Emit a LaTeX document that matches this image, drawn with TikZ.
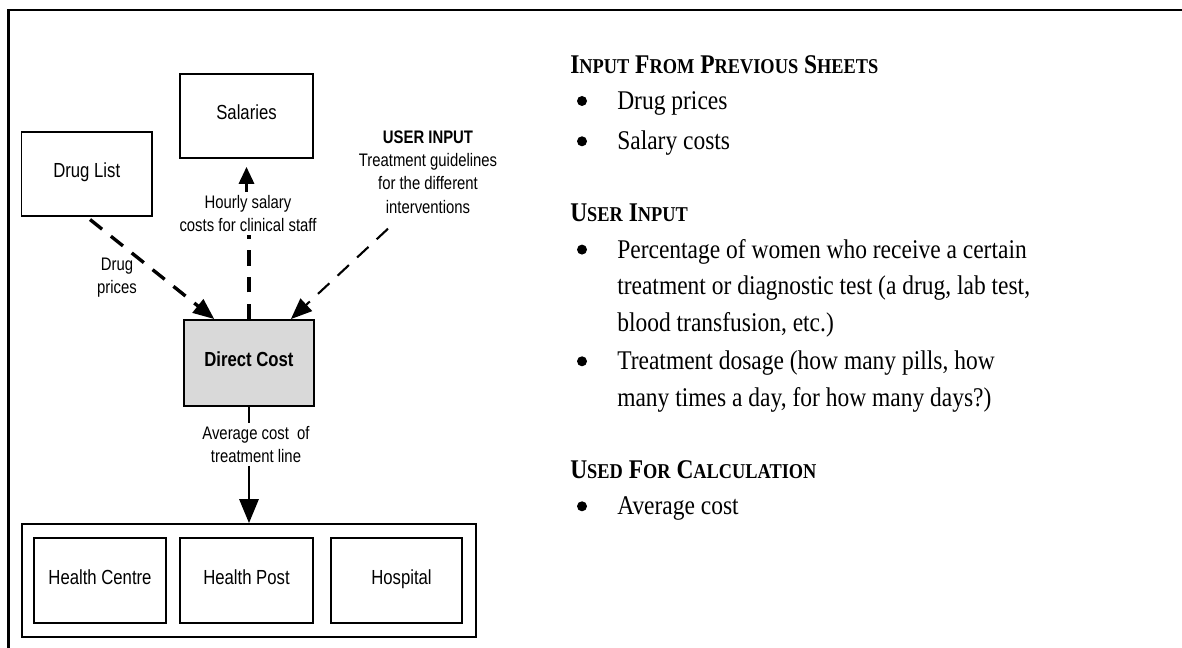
\documentclass[tikz,border=0pt]{standalone}
\usepackage{fontspec}
\setmainfont[FakeStretch=0.87]{Liberation Serif}
\setsansfont[FakeStretch=0.82]{Liberation Sans}
\usepackage{xcolor}
\usetikzlibrary{positioning,calc,arrows.meta}
\definecolor{costgray}{RGB}{217,217,217}
\newcommand{\capsc}[2]{#1{\fontsize{15}{15}\selectfont #2}}
\newcommand{\itemlines}[1]{\begin{tabular}[t]{@{}l@{}}#1\end{tabular}}

\begin{document}
\begin{tikzpicture}[
    box/.style={draw, line width=1.3pt, rectangle, minimum width=3.3cm, minimum height=2.1cm, text height=0.75em, text depth=0.22em, font=\sffamily\fontsize{14.5}{17}\selectfont},
    lbl/.style={align=center, inner sep=2pt, font=\sffamily\fontsize{12.9}{16.7}\selectfont},
    dashflow/.style={line width=2.4pt, dash pattern=on 11pt off 8pt},
    head/.style={anchor=base west, inner sep=0pt, font=\bfseries\fontsize{19.2}{26.1}\selectfont},
    item/.style={anchor=base west, inner sep=0pt, font=\fontsize{19.2}{26.1}\selectfont},
    dot/.style={circle, fill=black, inner sep=0pt, minimum size=0.25cm}]
    \useasboundingbox (0,0) rectangle (29.55,16.2);
    \clip (0,0) rectangle (29.55,16.2);

    % Frame
    \draw[line width=2.1pt] (29.8,15.95) -- (0.2125,15.95) -- (0.2125,-0.3);

    % Source sheets
    \node[box, minimum width=3.26cm] (druglist) at (2.169,11.85) {Drug List};
    \node[box, minimum width=3.325cm] (salaries) at (6.1625,13.3) {Salaries};

    % Direct cost sheet
    \node[box, minimum width=3.25cm, minimum height=2.15cm, fill=costgray, font=\sffamily\bfseries\fontsize{14.5}{17}\selectfont] (direct) at (6.225,7.125) {Direct Cost};

    % Labels
    \node[lbl] (drugprices) at (2.925,9.2625) {Drug\\prices};
    \node[lbl] (hourly) at (6.2,10.8625) {Hourly salary\\costs for clinical staff};
    \node[lbl] (userinput) at (10.7,11.9) {\textbf{USER INPUT}\\Treatment guidelines\\for the different\\interventions};
    \node[lbl] (avgcost) at (6.4,5.0875) {Average cost~ of\\treatment line};

    % Arrows into direct cost
    \draw[dashflow, -{Triangle[length=15pt,width=12pt]}, shorten <=3pt] (druglist.south) -- ([xshift=0.78cm]direct.north west);
    \draw[dashflow] (direct.north) -- (direct.north |- hourly.south);
    \draw[line width=2pt, -{Triangle[length=12pt,width=10.7pt]}, shorten >=0.2cm] (hourly.north -| salaries.south) -- (salaries.south);
    \draw[dashflow, line width=1.5pt, -{Triangle[length=15pt,width=12pt]}] ([xshift=-1cm,yshift=-0.3cm]userinput.south) -- ([xshift=-0.6cm]direct.north east);

    % Facilities
    \node[box, minimum width=11.35cm, minimum height=2.825cm] (facilities) at (6.225,1.6875) {};
    \node[box, minimum width=3.3cm, minimum height=2.125cm] (centre) at (2.5,1.6875) {Health Centre};
    \node[box, minimum width=3.325cm, minimum height=2.125cm] (post) at (6.1625,1.6875) {Health Post};
    \node[box, minimum width=3.275cm, minimum height=2.125cm] (hospital) at (9.9125,1.6875) {\hspace{0.25cm}Hospital};

    % Arrow out of direct cost
    \draw[line width=1.4pt] (direct.south) -- (direct.south |- avgcost.north);
    \draw[line width=1.4pt, -{Triangle[length=17pt,width=13.7pt]}] (avgcost.south -| direct.south) -- (facilities.north);

    % Notes
    \node[head] (prevhead) at (14.25,14.3675) {\capsc{I}{NPUT} \capsc{F}{ROM} \capsc{P}{REVIOUS} \capsc{S}{HEETS}};
    \node[item] (drugitem) at (15.425,13.4575) {Drug prices};
    \node[item] (salaryitem) at (15.425,12.45) {Salary costs};

    \node[head] (userhead) at (14.25,10.6575) {\capsc{U}{SER} \capsc{I}{NPUT}};
    \node[item] (pctitem) at (15.425,9.7425) {\itemlines{Percentage of women who receive a certain\\treatment or diagnostic test (a drug, lab test,\\blood transfusion, etc.)}};
    \node[item] (doseitem) at (15.425,6.95) {\itemlines{Treatment dosage (how many pills, how\\many times a day, for how many days?)}};

    \node[head] (calchead) at (14.25,4.2425) {\capsc{U}{SED} \capsc{F}{OR} \capsc{C}{ALCULATION}};
    \node[item] (avgitem) at (15.425,3.325) {Average cost};

    % Bullets
    \foreach \y [count=\i] in {13.4575,12.45,9.7425,6.95,3.325}
        \node[dot] (bullet\i) at (14.55,\y+0.2175) {};
\end{tikzpicture}
\end{document}
